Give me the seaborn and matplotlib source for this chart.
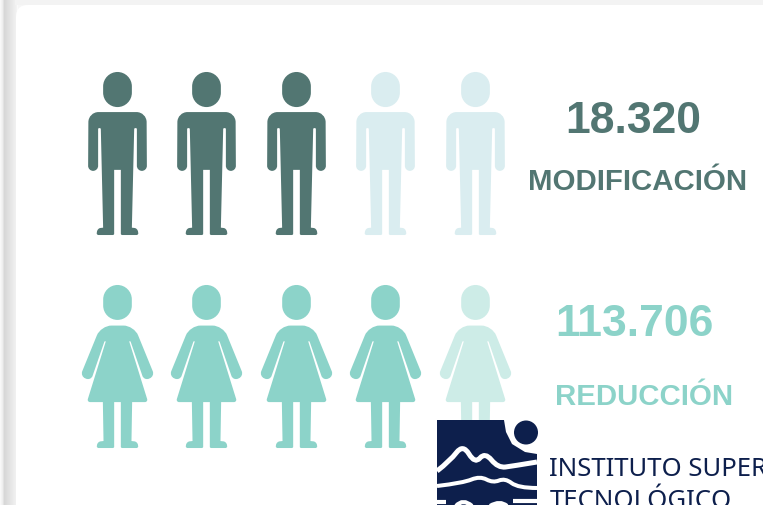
import numpy as np
import pandas as pd
import matplotlib
matplotlib.use("Agg")
import matplotlib.pyplot as plt
import seaborn as sns
from matplotlib.path import Path
from matplotlib.patches import FancyBboxPatch, Circle, Polygon, Rectangle, PathPatch

# ---------- data ----------
categories = ["MODIFICACIÓN", "REDUCCIÓN"]
value_labels = ["18.320", "113.706"]
filled_icons = [3, 4]
total_icons = [5, 5]

# ---------- styles ----------
DARK, DARK_LIGHT = "#527672", "#daedf0"
TEAL, TEAL_LIGHT = "#8cd3c9", "#cdece7"
NAVY = "#0d1f4c"
K = 0.55


def round_poly(pts):
    """pts: (x, y, r), y pointing down. Returns a closed path with rounded corners (y up)."""
    n = len(pts)
    verts, codes = [], []
    for i in range(n):
        p = np.array(pts[i][:2], float)
        r = pts[i][2]
        a = np.array(pts[i - 1][:2], float)
        b = np.array(pts[(i + 1) % n][:2], float)
        da, db = a - p, b - p
        la, lb = np.hypot(*da), np.hypot(*db)
        ra, rb = min(r, la / 2), min(r, lb / 2)
        s = p + da / la * ra
        e = p + db / lb * rb
        verts.append(s)
        codes.append(Path.MOVETO if i == 0 else Path.LINETO)
        verts += [s + (p - s) * K, e + (p - e) * K, e]
        codes += [Path.CURVE4] * 3
    verts.append(verts[0])
    codes.append(Path.CLOSEPOLY)
    v = np.array(verts)
    v[:, 1] *= -1
    return Path(v, codes)


def head(top, bottom):
    return round_poly([(-43, top, 43), (43, top, 43), (43, bottom, 43), (-43, bottom, 43)])


def icon(parts, cy):
    p = Path.make_compound_path(*parts)
    v = p.vertices.copy()
    v[:, 1] += cy
    return Path(v, p.codes)


def wave(points):
    """Smooth open curve through the midpoints of the given control points."""
    pts = np.array(points, float)
    verts, codes = [pts[0]], [Path.MOVETO]
    for i in range(1, len(pts) - 1):
        end = pts[-1] if i == len(pts) - 2 else (pts[i] + pts[i + 1]) / 2
        verts += [pts[i], end]
        codes += [Path.CURVE3, Path.CURVE3]
    return Path(np.array(verts), codes)


man_body = [(-87, 157, 30), (87, 157, 30), (88, 333, 15), (58, 333, 15), (58, 205, 3),
            (50, 205, 3), (43, 503, 0), (60, 505, 14), (63, 525, 6), (10, 525, 4),
            (10, 330, 0), (-10, 330, 0), (-10, 525, 4), (-63, 525, 6), (-60, 505, 14),
            (-43, 503, 0), (-50, 205, 3), (-58, 205, 3), (-58, 333, 15), (-88, 333, 15)]
woman_body = [(-50, 150, 32), (50, 150, 32), (112, 302, 16), (80, 316, 16), (39, 197, 2),
              (35, 197, 2), (92, 380, 10), (44, 380, 0), (42, 497, 0), (60, 499, 14),
              (63, 518, 6), (10, 518, 4), (10, 380, 0), (-10, 380, 0), (-10, 518, 4),
              (-63, 518, 6), (-60, 499, 14), (-42, 497, 0), (-44, 380, 0), (-92, 380, 10),
              (-35, 197, 2), (-39, 197, 2), (-80, 316, 16), (-112, 302, 16)]
MAN = icon([head(37, 142), round_poly(man_body)], 281)
WOMAN = icon([head(28, 133), round_poly(woman_body)], 273)

# ---------- long-form table built from the data ----------
rows = []
for r, (n, tot) in enumerate(zip(filled_icons, total_icons)):
    for c in range(tot):
        rows.append({"row": r, "col": c, "filled": c < n})
df = pd.DataFrame(rows)
df["px"] = 117 + 89.4 * df["col"]
df["py"] = np.where(df["row"] == 0, 154, 366.5)

sns.set_theme(style="white")
W, H = 763, 506
fig = plt.figure(figsize=(W / 100, H / 100), dpi=100, facecolor="#f6f6f6")
ax = fig.add_axes([0, 0, 1, 1])

# page shadow and card
ax.imshow(np.interp(np.arange(18), [0, 2, 4, 16, 17], [0.97, 0.93, 0.84, 0.95, 0.98])[None, :],
          extent=(0, 18, H, 0), cmap="gray", vmin=0, vmax=1, aspect="auto", zorder=0)
ax.add_patch(Rectangle((15, 0), W, 6, fc="#f3f3f3", ec="none", zorder=0.5))
ax.add_patch(FancyBboxPatch((16, 6), W + 40, H + 40, boxstyle="round,pad=0,rounding_size=12",
                            fc="white", ec="none", zorder=1))

# pictograms
SIZE = 13780
for r, (marker, on, off) in enumerate([(MAN, DARK, DARK_LIGHT), (WOMAN, TEAL, TEAL_LIGHT)]):
    sub = df[df["row"] == r]
    for flag, color in [(True, on), (False, off)]:
        sns.scatterplot(data=sub[sub["filled"] == flag], x="px", y="py", marker=marker,
                        color=color, s=SIZE, linewidth=0, ax=ax, legend=False, zorder=2)

# labels
F = "Liberation Sans"
ax.text(633, 121.5, value_labels[0], color=DARK, fontsize=32, fontweight="bold",
        family=F, ha="center", va="center", zorder=3)
ax.text(637.5, 182, categories[0], color=DARK, fontsize=21.2, fontweight="bold",
        family=F, ha="center", va="center", zorder=3)
ax.text(634, 325, value_labels[1], color=TEAL, fontsize=32, fontweight="bold",
        family=F, ha="center", va="center", zorder=3)
ax.text(644.5, 397, categories[1], color=TEAL, fontsize=21.2, fontweight="bold",
        family=F, ha="center", va="center", zorder=3)

# logo
ax.add_patch(Rectangle((437, 421), 100, 85, fc=NAVY, ec="none", zorder=4))
ax.add_patch(Polygon([(504, 421), (537, 421), (537, 455), (525, 453), (512, 445), (506, 433)],
                     fc="white", ec="none", zorder=4.1))
ax.add_patch(Circle((526, 433.5), 12, fc=NAVY, ec="none", zorder=4.2))
for pts, lw in [
    ([(437, 472), (450, 462), (463, 445), (475, 465), (485, 453), (498, 469), (513, 467), (537, 463)], 3.6),
    ([(437, 487), (463, 484), (480, 477), (493, 484), (505, 479), (518, 489), (537, 489)], 2.9),
    ([(437, 503), (446, 503)], 3.0),
    ([(456, 507), (463, 499), (472, 507)], 3.0),
    ([(490, 507), (500, 501), (507, 507)], 3.0),
    ([(513, 502), (537, 502)], 3.0),
]:
    ax.add_patch(PathPatch(wave(pts) if len(pts) > 2 else Path(pts), fc="none", ec="white",
                           lw=lw, capstyle="butt", joinstyle="round", zorder=4.3))
ax.text(549, 476, "INSTITUTO SUPER", color=NAVY, fontsize=18.5, family="Noto Sans",
        fontweight="medium", ha="left", va="baseline", zorder=5)
ax.text(550, 508.5, "TECNOLÓGICO", color=NAVY, fontsize=18.5, family="Noto Sans",
        fontweight="medium", ha="left", va="baseline", zorder=5)

ax.set_xlim(0, W)
ax.set_ylim(H, 0)
ax.axis("off")
fig.savefig("out.png", dpi=100)
